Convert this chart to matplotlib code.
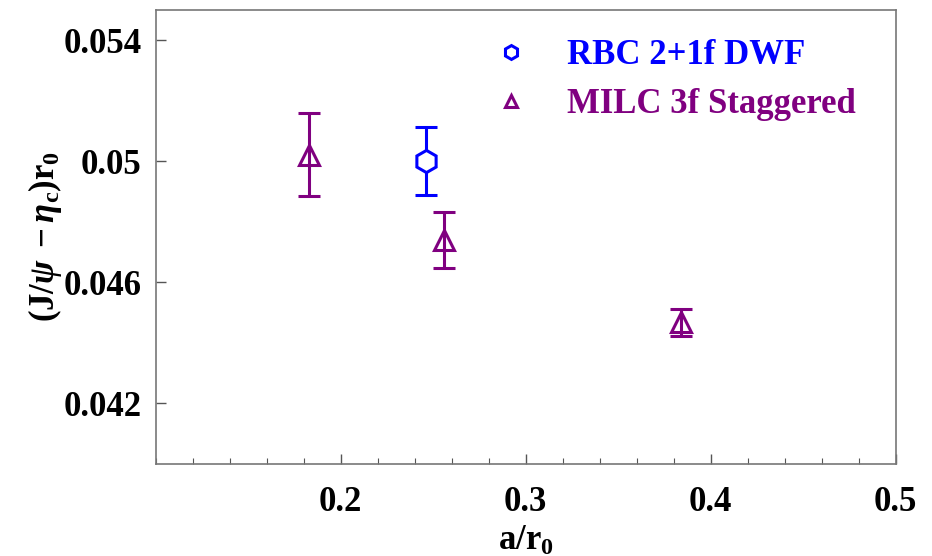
import matplotlib
matplotlib.use("Agg")
import matplotlib.pyplot as plt
from matplotlib.lines import Line2D
from matplotlib.ticker import MultipleLocator

plt.rcParams['font.family'] = ['Liberation Serif', 'DejaVu Serif']
plt.rcParams['font.weight'] = 'bold'
plt.rcParams['axes.labelweight'] = 'bold'
plt.rcParams['mathtext.fontset'] = 'custom'
plt.rcParams['mathtext.rm'] = 'Liberation Serif:bold'
plt.rcParams['mathtext.it'] = 'Liberation Serif:italic:bold'
plt.rcParams['mathtext.bf'] = 'Liberation Serif:bold'

# RBC 2+1f DWF
rbc_x = [0.246]
rbc_y = [0.0500]
rbc_err = [0.00112]

# MILC 3f Staggered
milc_x = [0.183, 0.256, 0.384]
milc_y = [0.05022, 0.04740, 0.04468]
milc_err = [0.00138, 0.00093, 0.00045]

blue = '#0000ff'
purple = '#800080'

fig, ax = plt.subplots(figsize=(9.32, 5.56), dpi=100)
fig.subplots_adjust(left=0.167, right=0.961, top=0.982, bottom=0.166)

ax.errorbar(rbc_x, rbc_y, yerr=rbc_err, fmt='h', color=blue, mfc='white',
            mec=blue, mew=2.2, ms=16, elinewidth=2.2, capsize=8, capthick=2.2)
ax.errorbar(milc_x, milc_y, yerr=milc_err, fmt='^', color=purple, mfc='none',
            mec=purple, mew=2.2, ms=14, elinewidth=2.2, capsize=8, capthick=2.2)

ax.set_xlim(0.1, 0.5)
ax.set_ylim(0.040, 0.055)
ax.set_xticks([0.2, 0.3, 0.4, 0.5])
ax.set_xticklabels(['0.2', '0.3', '0.4', '0.5'])
ax.xaxis.set_minor_locator(MultipleLocator(0.02))
ax.set_yticks([0.042, 0.046, 0.05, 0.054])
ax.set_yticklabels(['0.042', '0.046', '0.05', '0.054'])

ax.tick_params(axis='both', which='both', direction='in', labelsize=25,
               color='#555555')
ax.tick_params(axis='x', which='major', length=7, width=1, pad=16)
ax.tick_params(axis='x', which='minor', length=4, width=0.8)
ax.tick_params(axis='y', which='major', length=7, width=1, pad=10)
for s in ax.spines.values():
    s.set_color('#777777')
    s.set_linewidth(1.2)

ax.set_xlabel(r'a/r$_0$', fontsize=25, labelpad=4)
ax.set_ylabel(r'$(\mathrm{J}/\psi\;-\eta_{\mathrm{c}})\mathrm{r}_0$', fontsize=25,
              labelpad=0)

handles = [
    Line2D([], [], ls='none', marker='h', ms=10, mfc='white', mec=blue, mew=2.2),
    Line2D([], [], ls='none', marker='^', ms=9, mfc='none', mec=purple, mew=2.2),
]
leg = ax.legend(handles, ['RBC 2+1f DWF', 'MILC 3f Staggered'],
                loc='upper left', bbox_to_anchor=(0.41, 1.004), frameon=False,
                fontsize=25, handletextpad=1.0, labelspacing=0.45,
                handlelength=1.2)
for t, c in zip(leg.get_texts(), [blue, purple]):
    t.set_color(c)

fig.savefig('out.png', dpi=100)
